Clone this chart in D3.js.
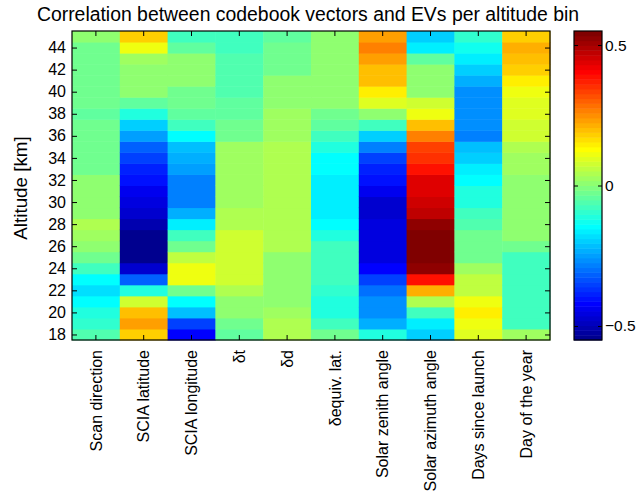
<!DOCTYPE html>
<html><head><meta charset="utf-8">
<script src="https://cdn.jsdelivr.net/npm/d3@7"></script>
<style>
html,body{margin:0;padding:0;background:#fff;}
svg{display:block;font-family:"Liberation Sans",Arial,Helvetica,sans-serif;}
</style></head><body>
<svg id="chart" width="636" height="495"></svg>
<script>
// ---------------- data ----------------
const altitudes = [18,19,20,21,22,23,24,25,26,27,28,29,30,31,32,33,34,35,36,37,38,39,40,41,42,43,44,45];
const categories = ["Scan direction","SCIA latitude","SCIA longitude","δt","δd","δequiv. lat.","Solar zenith angle","Solar azimuth angle","Days since launch","Day of the year"];
// correlation per altitude (18 km ... 45 km)
const scanDirection = [-0.06,-0.10,-0.11,-0.15,-0.18,-0.14,-0.08,-0.03,0.01,0.02,0.04,0.01,0.01,0.01,0.0,-0.03,-0.03,-0.03,-0.03,-0.03,-0.05,-0.03,-0.03,-0.03,-0.03,-0.03,-0.03,0.0];
const sciaLatitude = [0.18,0.23,0.19,0.07,-0.12,-0.32,-0.47,-0.55,-0.55,-0.55,-0.51,-0.48,-0.46,-0.43,-0.41,-0.39,-0.36,-0.32,-0.25,-0.19,-0.12,-0.04,0.0,0.0,0.0,0.03,0.105,0.18];
const sciaLongitude = [-0.42,-0.35,-0.22,-0.14,-0.02,0.12,0.12,0.055,-0.02,-0.07,-0.16,-0.23,-0.28,-0.28,-0.29,-0.25,-0.24,-0.21,-0.14,-0.08,-0.04,-0.03,-0.02,0.0,0.0,0.0,-0.05,-0.08];
const deltaT = [-0.05,-0.02,0.01,0.01,0.045,0.07,0.08,0.08,0.07,0.07,0.05,0.05,0.02,0.02,0.02,0.02,0.02,0.02,-0.02,-0.03,-0.05,-0.05,-0.06,-0.06,-0.06,-0.06,-0.07,-0.08];
const deltaD = [0.04,0.04,0.02,0.01,0.01,0.01,0.01,0.01,0.035,0.035,0.035,0.035,0.05,0.05,0.05,0.05,0.05,0.05,0.02,0.02,0.02,0.0,0.0,0.0,-0.02,-0.03,-0.03,-0.05];
const deltaEquivLat = [-0.03,-0.08,-0.12,-0.11,-0.09,-0.08,-0.08,-0.08,-0.08,-0.12,-0.15,-0.16,-0.16,-0.16,-0.16,-0.14,-0.14,-0.11,-0.07,-0.04,-0.03,0.0,0.01,0.01,0.01,0.01,0.01,0.01];
const solarZenith = [-0.12,-0.23,-0.26,-0.26,-0.30,-0.35,-0.42,-0.46,-0.46,-0.46,-0.46,-0.48,-0.47,-0.43,-0.41,-0.39,-0.35,-0.28,-0.19,-0.07,0.0,0.09,0.14,0.19,0.2,0.23,0.26,0.24];
const solarAzimuth = [-0.2,-0.17,-0.07,0.045,0.22,0.38,0.52,0.55,0.55,0.55,0.52,0.48,0.46,0.44,0.43,0.39,0.36,0.33,0.26,0.2,0.12,0.08,0.0,0.0,0.0,-0.05,-0.17,-0.2];
const daysSinceLaunch = [0.09,0.12,0.14,0.12,0.055,0.055,0.02,-0.02,-0.03,-0.03,-0.06,-0.08,-0.11,-0.12,-0.14,-0.17,-0.2,-0.22,-0.28,-0.27,-0.27,-0.27,-0.27,-0.23,-0.2,-0.17,-0.13,-0.09];
const dayOfYear = [0.02,-0.08,-0.08,-0.08,-0.08,-0.08,-0.08,-0.08,-0.02,0.0,0.0,0.01,0.01,0.01,0.01,0.02,0.02,0.04,0.07,0.08,0.09,0.1,0.12,0.14,0.18,0.2,0.21,0.18];
const yTicks = [18,20,22,24,26,28,30,32,34,36,38,40,42,44];
const colorTicks = [-0.5,0,0.5];
const colorTickLabels = ["−0.5","0","0.5"];
const colorLimits = [-0.55,0.55];
const titleText = "Correlation between codebook vectors and EVs per altitude bin";
const yLabelText = "Altitude [km]";

const series = [scanDirection,sciaLatitude,sciaLongitude,deltaT,deltaD,deltaEquivLat,solarZenith,solarAzimuth,daysSinceLaunch,dayOfYear];

// ---------------- MATLAB jet(64) colormap ----------------
function jet(n){
  const m = Math.ceil(n/4);
  const u = [];
  for(let i=1;i<=m;i++) u.push(i/m);
  for(let i=1;i<m;i++) u.push(1);
  for(let i=m;i>=1;i--) u.push(i/m);
  const off = Math.ceil(m/2) - (n%4===1?1:0);
  const at = (k)=>{ const i=k-1; return (i>=0 && i<u.length)?u[i]:0; };
  const cols=[];
  for(let k=1;k<=n;k++){
    const g = at(k-off), r = at(k-off-m), b = at(k-off+m);
    cols.push(d3.rgb(Math.round(r*255),Math.round(g*255),Math.round(b*255)).formatHex());
  }
  return cols;
}
const jetColors = jet(64);

// ---------------- layout ----------------
const svg = d3.select("#chart");
const L=72, R=550, T=31, B=340;
const cbL=574, cbR=602;

const x = d3.scaleBand().domain(categories).range([L,R]).padding(0);
const y = d3.scaleLinear().domain([17.5,45.5]).range([B,T]);
const color = d3.scaleQuantize().domain(colorLimits).range(jetColors);

const cells = [];
series.forEach((vals,ci)=>vals.forEach((v,ai)=>cells.push({cat:categories[ci],alt:altitudes[ai],v})));

const rowH = y(17.5)-y(18.5);
svg.append("g").selectAll("rect").data(cells).join("rect")
  .attr("x",d=>x(d.cat))
  .attr("y",d=>y(d.alt+0.5))
  .attr("width",x.bandwidth()+0.5)
  .attr("height",rowH+0.5)
  .attr("fill",d=>color(d.v));

// axes
const fs = 16;
const axL = svg.append("g").attr("transform",`translate(${L},0)`)
  .call(d3.axisLeft(y).tickValues(yTicks).tickSize(-5).tickPadding(6).tickFormat(d3.format("d")));
const axR = svg.append("g").attr("transform",`translate(${R},0)`)
  .call(d3.axisRight(y).tickValues(yTicks).tickSize(-5).tickFormat(""));
const axT = svg.append("g").attr("transform",`translate(0,${T})`)
  .call(d3.axisTop(x).tickSize(-5).tickFormat(""));
const axB = svg.append("g").attr("transform",`translate(0,${B})`)
  .call(d3.axisBottom(x).tickSize(-5));
axB.selectAll(".tick text")
  .attr("transform","rotate(-90)")
  .attr("x",-10).attr("y",0).attr("dy","0.35em")
  .style("text-anchor","end");
[axL,axR,axT,axB].forEach(a=>{
  a.select(".domain").remove();
  a.selectAll(".tick line").attr("stroke","#000");
  a.selectAll(".tick text").attr("fill","#000").style("font-size",fs+"px").style("font-family",null);
});
svg.append("rect").attr("x",L).attr("y",T).attr("width",R-L).attr("height",B-T)
  .attr("fill","none").attr("stroke","#000").attr("stroke-width",1.2);

// title & y label
svg.append("text").attr("x",308).attr("y",21).attr("text-anchor","middle")
  .style("font-size","19.4px").attr("fill","#000").text(titleText);
svg.append("text").attr("transform",`translate(27,188) rotate(-90)`)
  .attr("text-anchor","middle").style("font-size","18.8px").attr("fill","#000").text(yLabelText);

// colorbar
const cy = d3.scaleLinear().domain(colorLimits).range([B,T]);
const band = (B-T)/jetColors.length;
svg.append("g").selectAll("rect").data(jetColors).join("rect")
  .attr("x",cbL).attr("width",cbR-cbL)
  .attr("y",(c,i)=>cy(colorLimits[0]) - (i+1)*band)
  .attr("height",band+0.5)
  .attr("fill",c=>c);
const cbAx = svg.append("g").attr("transform",`translate(${cbR},0)`)
  .call(d3.axisRight(cy).tickValues(colorTicks).tickSize(-4).tickPadding(3)
    .tickFormat((d,i)=>colorTickLabels[i]));
const cbAxL = svg.append("g").attr("transform",`translate(${cbL},0)`)
  .call(d3.axisLeft(cy).tickValues(colorTicks).tickSize(-4).tickFormat(""));
[cbAx,cbAxL].forEach(a=>{
  a.select(".domain").remove();
  a.selectAll(".tick line").attr("stroke","#000");
  a.selectAll(".tick text").attr("fill","#000").style("font-size","15.5px").style("font-family",null);
});
svg.append("rect").attr("x",cbL).attr("y",T).attr("width",cbR-cbL).attr("height",B-T)
  .attr("fill","none").attr("stroke","#000").attr("stroke-width",1.2);
</script>
</body></html>
